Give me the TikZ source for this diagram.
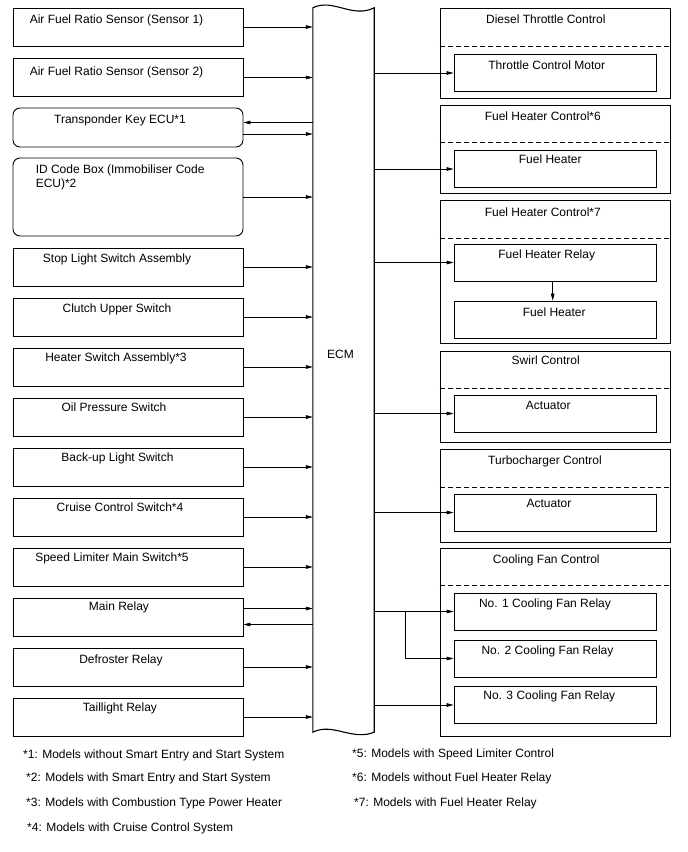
\documentclass[tikz,border=0pt]{standalone}
\usepackage{fontspec}
\setmainfont{Liberation Sans}
\usetikzlibrary{arrows.meta}

\tikzset{
  box/.style={draw, line width=0.9pt, minimum width=230, minimum height=38, inner sep=0},
  rbox/.style={box, rounded corners=7pt},
  grp/.style={draw, line width=0.9pt, minimum width=230, inner sep=0},
  part/.style={draw, line width=0.9pt, minimum width=202, minimum height=37, inner sep=0},
  txt/.style={font=\fontsize{12}{14.5}\selectfont, anchor=base, inner sep=0},
  note/.style={txt, anchor=base west},
  sig/.style={line width=0.6pt, -{Triangle[length=7pt,width=3.6pt]}},
  sep/.style={line width=0.6pt, dash pattern=on 5pt off 3pt},
}

\begin{document}
\begin{tikzpicture}[x=1pt, y=-1pt]
  \useasboundingbox (0, 0) rectangle (688, 852);

  % ECM
  \node[minimum width=61, minimum height=724, inner sep=0] (ecm) at (343.5, 370) {};
  \draw[line width=1.1pt] (ecm.south west) -- (ecm.north west)
    .. controls +(20, -10) and +(-22, 11) .. (ecm.north east) -- (ecm.south east)
    .. controls +(-22, 9) and +(20, -10) .. (ecm.south west) -- cycle;
  \node[txt] (ecmtxt) at (340.5, 358.3) {ECM};

  % inputs
  \node[box] (b1) at (128, 27) {};
  \node[txt] (t1) at ([xshift=-11.5pt, yshift=-16.3pt]b1.north) {Air Fuel Ratio Sensor (Sensor 1)};
  \draw[sig] (b1.east) -- (b1.east -| ecm.west);

  \node[box] (b2) at (128, 77.5) {};
  \node[txt] (t2) at ([xshift=-11.5pt, yshift=-17pt]b2.north) {Air Fuel Ratio Sensor (Sensor 2)};
  \draw[sig] (b2.east) -- (b2.east -| ecm.west);

  \node[rbox, minimum height=39] (b3) at (128, 127.5) {};
  \node[txt] (t3) at ([xshift=-8pt, yshift=-16.3pt]b3.north) {Transponder Key ECU*1};
  \draw[sig] ([yshift=5pt]b3.east -| ecm.west) -- ([yshift=5pt]b3.east);
  \draw[sig] ([yshift=-6.5pt]b3.east) -- ([yshift=-6.5pt]b3.east -| ecm.west);

  \node[rbox, minimum height=78] (b4) at (128, 197) {};
  \node[txt, anchor=north west, align=left] (t4) at ([xshift=23pt, yshift=-7pt]b4.north west) {ID Code Box (Immobiliser Code\\ECU)*2};
  \draw[sig] (b4.east) -- (b4.east -| ecm.west);

  \node[box] (b5) at (128, 267) {};
  \node[txt] (t5) at ([xshift=-11pt, yshift=-15.3pt]b5.north) {Stop Light Switch Assembly};
  \draw[sig] (b5.east) -- (b5.east -| ecm.west);

  \node[box] (b6) at (128, 317) {};
  \node[txt] (t6) at ([xshift=-11pt, yshift=-15.3pt]b6.north) {Clutch Upper Switch};
  \draw[sig] (b6.east) -- (b6.east -| ecm.west);

  \node[box] (b7) at (128, 367) {};
  \node[txt] (t7) at ([xshift=-12pt, yshift=-13.5pt]b7.north) {Heater Switch Assembly*3};
  \draw[sig] (b7.east) -- (b7.east -| ecm.west);

  \node[box] (b8) at (128, 417) {};
  \node[txt] (t8) at ([xshift=-14pt, yshift=-13.5pt]b8.north) {Oil Pressure Switch};
  \draw[sig] (b8.east) -- (b8.east -| ecm.west);

  \node[box] (b9) at (128, 467) {};
  \node[txt] (t9) at ([xshift=-10.5pt, yshift=-14.3pt]b9.north) {Back-up Light Switch};
  \draw[sig] (b9.east) -- (b9.east -| ecm.west);

  \node[box] (b10) at (128, 517) {};
  \node[txt] (t10) at ([xshift=-8pt, yshift=-13.5pt]b10.north) {Cruise Control Switch*4};
  \draw[sig] (b10.east) -- (b10.east -| ecm.west);

  \node[box] (b11) at (128, 567) {};
  \node[txt] (t11) at ([xshift=-16pt, yshift=-13.5pt]b11.north) {Speed Limiter Main Switch*5};
  \draw[sig] (b11.east) -- (b11.east -| ecm.west);

  \node[box] (b12) at (128, 617) {};
  \node[txt] (t12) at ([xshift=-9pt, yshift=-13pt]b12.north) {Main Relay};
  \draw[sig] ([yshift=8.5pt]b12.east) -- ([yshift=8.5pt]b12.east -| ecm.west);
  \draw[sig] ([yshift=-7.5pt]b12.east -| ecm.west) -- ([yshift=-7.5pt]b12.east);

  \node[box] (b13) at (128, 667) {};
  \node[txt] (t13) at ([xshift=-7pt, yshift=-15.6pt]b13.north) {Defroster Relay};
  \draw[sig] (b13.east) -- (b13.east -| ecm.west);

  \node[box] (b14) at (128, 717) {};
  \node[txt] (t14) at ([xshift=-8pt, yshift=-14pt]b14.north) {Taillight Relay};
  \draw[sig] (b14.east) -- (b14.east -| ecm.west);

  % outputs
  \node[grp, minimum height=90] (thr) at (555, 53) {};
  \node[txt] (thrtxt) at ([xshift=-9.2pt, yshift=-16.3pt]thr.north) {Diesel Throttle Control};
  \draw[sep] ([yshift=-38.7pt]thr.north west) -- ([yshift=-38.7pt]thr.north east);
  \node[part] (thrm) at (555, 73) {};
  \node[txt] (thrmtxt) at ([xshift=-8.3pt, yshift=-15.3pt]thrm.north) {Throttle Control Motor};
  \draw[sig] (thrm.west -| ecm.east) -- (thrm.west);

  \node[grp, minimum height=88] (fh6) at (555, 149) {};
  \node[txt] (fh6txt) at ([xshift=-12.2pt, yshift=-16.3pt]fh6.north) {Fuel Heater Control*6};
  \draw[sep] ([yshift=-37.7pt]fh6.north west) -- ([yshift=-37.7pt]fh6.north east);
  \node[part] (fh) at (555, 169) {};
  \node[txt] (fhtxt) at ([xshift=-4.8pt, yshift=-13.5pt]fh.north) {Fuel Heater};
  \draw[sig] (fh.west -| ecm.east) -- (fh.west);

  \node[grp, minimum height=143] (fh7) at (555, 271.5) {};
  \node[txt] (fh7txt) at ([xshift=-12.2pt, yshift=-16.6pt]fh7.north) {Fuel Heater Control*7};
  \draw[sep] ([yshift=-38.3pt]fh7.north west) -- ([yshift=-38.3pt]fh7.north east);
  \node[part] (fhr) at (555, 262.5) {};
  \node[txt] (fhrtxt) at ([xshift=-8.3pt, yshift=-15.3pt]fhr.north) {Fuel Heater Relay};
  \node[part] (fhh) at (555, 319.5) {};
  \node[txt] (fhhtxt) at ([xshift=-0.8pt, yshift=-15.6pt]fhh.north) {Fuel Heater};
  \draw[sig] (fhr.west -| ecm.east) -- (fhr.west);
  \draw[sig] ([xshift=-2.3pt]fhr.south) -- ([xshift=-2.3pt]fhh.north);

  \node[grp, minimum height=91] (swl) at (555, 396.5) {};
  \node[txt] (swltxt) at ([xshift=-9.3pt, yshift=-13.6pt]swl.north) {Swirl Control};
  \draw[sep] ([yshift=-37.6pt]swl.north west) -- ([yshift=-37.6pt]swl.north east);
  \node[part] (swa) at (555, 413.5) {};
  \node[txt] (swatxt) at ([xshift=-6.7pt, yshift=-15.3pt]swa.north) {Actuator};
  \draw[sig] (swa.west -| ecm.east) -- (swa.west);

  \node[grp, minimum height=93] (tur) at (555, 495.5) {};
  \node[txt] (turtxt) at ([xshift=-10pt, yshift=-16pt]tur.north) {Turbocharger Control};
  \draw[sep] ([yshift=-38.3pt]tur.north west) -- ([yshift=-38.3pt]tur.north east);
  \node[part] (tua) at (555, 512.5) {};
  \node[txt] (tuatxt) at ([xshift=-6pt, yshift=-14.3pt]tua.north) {Actuator};
  \draw[sig] (tua.west -| ecm.east) -- (tua.west);

  \node[grp, minimum height=188] (fan) at (555, 642) {};
  \node[txt] (fantxt) at ([xshift=-8.7pt, yshift=-16pt]fan.north) {Cooling Fan Control};
  \draw[sep] ([yshift=-37.7pt]fan.north west) -- ([yshift=-37.7pt]fan.north east);
  \node[part] (f1) at (555, 611.5) {};
  \node[txt] (f1txt) at ([xshift=-10pt, yshift=-15.3pt]f1.north) {No. 1 Cooling Fan Relay};
  \node[part] (f2) at (555, 658.5) {};
  \node[txt] (f2txt) at ([xshift=-7.5pt, yshift=-15.3pt]f2.north) {No. 2 Cooling Fan Relay};
  \node[part] (f3) at (555, 705) {};
  \node[txt] (f3txt) at ([xshift=-5.7pt, yshift=-13.3pt]f3.north) {No. 3 Cooling Fan Relay};
  \draw[sig] (f1.west -| ecm.east) -- (f1.west);
  \draw[sig] ([xshift=31.3pt]f1.west -| ecm.east) |- (f2.west);
  \draw[sig] (f3.west -| ecm.east) -- (f3.west);

  % notes
  \node[note] (n1) at (23, 758.3) {*1: Models without Smart Entry and Start System};
  \node[note] (n2) at (26, 781) {*2: Models with Smart Entry and Start System};
  \node[note] (n3) at (26, 806) {*3: Models with Combustion Type Power Heater};
  \node[note] (n4) at (27, 831.6) {*4: Models with Cruise Control System};
  \node[note] (n5) at (352, 757.3) {*5: Models with Speed Limiter Control};
  \node[note] (n6) at (352, 781.3) {*6: Models without Fuel Heater Relay};
  \node[note] (n7) at (354, 806.3) {*7: Models with Fuel Heater Relay};
\end{tikzpicture}
\end{document}
